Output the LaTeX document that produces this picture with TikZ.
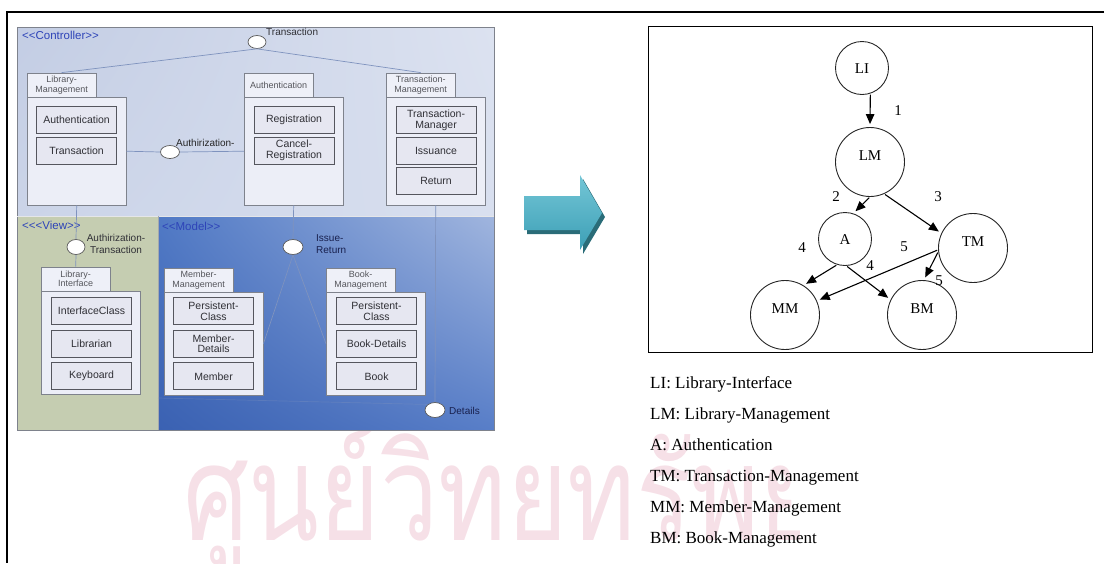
\documentclass[tikz,border=0pt]{standalone}
\usepackage{fontspec}
\setmainfont{Liberation Serif}
\newfontfamily\umlfont{Liberation Sans}
\newfontfamily\thaifont[Script=Thai]{Loma}
\usepackage{xcolor}
\usetikzlibrary{shapes.geometric, arrows.meta, positioning, calc, shadings}
\definecolor{stereoblue}{HTML}{2E44B8}
\definecolor{pkgline}{HTML}{7E828C}
\definecolor{tabfill}{HTML}{EEF0F8}
\definecolor{bodyfill}{HTML}{ECEEF7}
\definecolor{clsfill}{HTML}{E6E7F1}
\definecolor{clsline}{HTML}{55565E}
\definecolor{clstext}{HTML}{303036}
\definecolor{tabtext}{HTML}{55565C}
\definecolor{linkblue}{HTML}{7F93BE}
\definecolor{navytext}{HTML}{18204E}
\definecolor{viewbg}{HTML}{C5CDB1}
\definecolor{ctrlUL}{HTML}{C3CDE4}
\definecolor{ctrlUR}{HTML}{DCE2F0}
\definecolor{ctrlLL}{HTML}{CBD4E8}
\definecolor{ctrlLR}{HTML}{D8DFEF}
\definecolor{modelUL}{HTML}{5079C5}
\definecolor{modelUR}{HTML}{A0B5DE}
\definecolor{modelLL}{HTML}{3A61B2}
\definecolor{modelLR}{HTML}{587EC8}
\definecolor{arrowtop}{HTML}{74C6D6}
\definecolor{arrowbot}{HTML}{3C9FB6}
\definecolor{arrowshadow}{HTML}{2A6C78}
\definecolor{wmpink}{HTML}{F6E0E7}

\begin{document}
\begin{tikzpicture}[x=1pt, y=-1pt, >={Triangle[length=10pt,width=8.5pt]}]
        \tikzstyle{pkgtab}=[draw=pkgline, fill=tabfill, minimum width=69, minimum height=24, inner sep=0pt, align=center, anchor=south west, text=tabtext, font=\umlfont\fontsize{9}{9.8}\selectfont]
        \tikzstyle{pkgbody}=[draw=pkgline, fill=bodyfill, minimum width=99, inner sep=0pt, anchor=north west]
        \tikzstyle{cls}=[draw=clsline, line width=1.1pt, fill=clsfill, minimum width=80, minimum height=27, inner sep=0pt, align=center, anchor=north west, text=clstext, font=\umlfont\fontsize{10.5}{10.8}\selectfont]
        \tikzstyle{lolly}=[ellipse, draw=black!65, line width=0.7pt, fill=white, minimum width=19, minimum height=14, inner sep=0pt]
        \tikzstyle{link}=[draw=linkblue, line width=0.7pt]
        \tikzstyle{stereo}=[anchor=west, inner sep=0pt, text=stereoblue, font=\umlfont\fontsize{11.5}{12}\selectfont]
        \tikzstyle{iface}=[inner sep=0pt, align=left, font=\umlfont\fontsize{10}{11.5}\selectfont]
        \tikzstyle{smallstate}=[circle, draw=black!85, line width=0.9pt, minimum size=53, inner sep=0pt, text height=10.5pt, text depth=0pt, font=\fontsize{15}{15}\selectfont]
        \tikzstyle{bigstate}=[smallstate, minimum size=69, text depth=13pt]
        \tikzstyle{num}=[inner sep=0pt, font=\fontsize{15}{15}\selectfont]
        \tikzstyle{legend}=[anchor=base west, inner sep=0pt, font=\fontsize{17}{17}\selectfont]
        \tikzstyle{dep}=[->, line width=1.1pt, shorten >=3pt, shorten <=1pt]

        \useasboundingbox (0,0) rectangle (1106,563);

        % Watermark behind everything, its tail hidden under the legend
        \node[anchor=base west, inner sep=0pt, text=wmpink, font=\thaifont\fontsize{140}{140}\selectfont] (wm) at (183,540) {\scalebox{0.74}[0.95]{ศูนย์วิทยทรัพยากร}};
        \fill[white] (800,360) rectangle (1106,563);

        % Page frame
        \draw[line width=2pt] (1104,12) -- (7,12) -- (7,563);

        % Layer backgrounds
        \shade[upper left=ctrlUL, upper right=ctrlUR, lower left=ctrlLL, lower right=ctrlLR] (17,27) rectangle (494,216);
        \fill[viewbg] (17,216) rectangle (158,430);
        \shade[upper left=modelUL, upper right=modelUR, lower left=modelLL, lower right=modelLR] (158,216) rectangle (494,430);
        \draw[pkgline, line width=0.8pt] (17,27) rectangle (494,430);
        \draw[white!80!pkgline] (17,216) -- (494,216);
        \draw[pkgline!70] (158,216) -- (158,430);

        % Layer names
        \node[stereo] (ctrl) at (22,35) {<<Controller>>};
        \node[stereo] (view) at (22,225) {<<<View>>};
        \node[stereo] (model) at (162,226) {<<Model>>};

        % Controller packages
        \node[pkgbody, minimum height=108] (lmbody) at (27,97) {};
        \node[pkgtab] (lmtab) at (lmbody.north west) {Library-\\Management};
        \node[cls] (lmauth) at ([shift={(9,9)}]lmbody.north west) {Authentication};
        \node[cls, below=2.5pt of lmauth] (lmtrans) {Transaction};

        \node[pkgbody, minimum height=108] (abody) at (244,97) {};
        \node[pkgtab] (atab) at (abody.north west) {Authentication};
        \node[cls] (areg) at ([shift={(9.5,9)}]abody.north west) {Registration};
        \node[cls, below=2.5pt of areg] (acancel) {Cancel-\\Registration};

        \node[pkgbody, minimum height=108] (tmbody) at (386,97) {};
        \node[pkgtab] (tmtab) at (tmbody.north west) {Transaction-\\Management};
        \node[cls] (tmman) at ([shift={(9.5,9)}]tmbody.north west) {Transaction-\\Manager};
        \node[cls, below=2.5pt of tmman] (tmiss) {Issuance};
        \node[cls, below=2.5pt of tmiss] (tmret) {Return};

        % View package
        \node[pkgbody, minimum height=103] (libody) at (41,291) {};
        \node[pkgtab] (litab) at (libody.north west) {Library-\\Interface};
        \node[cls] (licls) at ([shift={(10,6)}]libody.north west) {InterfaceClass};
        \node[cls, below=4.5pt of licls] (lilib) {Librarian};
        \node[cls, below=4.5pt of lilib] (likey) {Keyboard};

        % Model packages
        \node[pkgbody, minimum height=103] (mmbody) at (164,292) {};
        \node[pkgtab] (mmtab) at (mmbody.north west) {Member-\\Management};
        \node[cls] (mmpers) at ([shift={(9,5)}]mmbody.north west) {Persistent-\\Class};
        \node[cls, below=4.5pt of mmpers] (mmdet) {Member-\\Details};
        \node[cls, below=4.5pt of mmdet] (mmmem) {Member};

        \node[pkgbody, minimum height=103] (bmbody) at (326,292) {};
        \node[pkgtab] (bmtab) at (bmbody.north west) {Book-\\Management};
        \node[cls] (bmpers) at ([shift={(10,5)}]bmbody.north west) {Persistent-\\Class};
        \node[cls, below=4.5pt of bmpers] (bmdet) {Book-Details};
        \node[cls, below=4.5pt of bmdet] (bmbook) {Book};

        % Interfaces
        \node[lolly, minimum width=18, minimum height=13] (trans) at (257,42) {};
        \node[lolly, minimum height=13] (authz) at (170,152) {};
        \node[lolly, minimum width=18, minimum height=15] (authztr) at (76,247) {};
        \node[lolly, minimum width=20, minimum height=15] (issue) at (293,247) {};
        \node[lolly, minimum width=20, minimum height=15] (details) at (435,410) {};
        \coordinate (detailsend) at (158,398);

        \node[iface, anchor=west, text=clstext] (translbl) at (266,32) {Transaction};
        \node[iface, anchor=west, text=black!85] (authzlbl) at (176,143) {Authirization-};
        \node[iface, align=center, text=clstext] (authztrlbl) at (116,244) {Authirization-\\Transaction};
        \node[iface, anchor=west, text=navytext] (issuelbl) at (316,244) {Issue-\\Return};
        \node[iface, anchor=west, text=navytext] (detailslbl) at (449,411) {Details};

        % Connections
        \draw[link] (lmtab.north) -- (trans.south) -- (tmtab.north);
        \draw[link] (lmbody.east) -- (authz.west);
        \draw[link] (authz.east) -- (abody.west);
        \draw[link] (lmbody.south) -- (authztr.north);
        \draw[link] (authztr.south) -- (litab.north);
        \draw[link] (abody.south) -- (issue.north);
        \draw[link] (issue.south) -- (mmbody.east);
        \draw[link] (issue.south) -- (bmbody.west);
        \draw[link] (tmbody.south) -- (details.north);
        \draw[link, opacity=0.35] (details.north west) -- (detailsend);

        % Block arrow between the two parts
        \fill[arrowshadow] (527,200) -- (583,200) -- (583,179) -- (605,217) -- (583,254) -- (583,234) -- (527,234) -- cycle;
        \shade[top color=arrowtop, bottom color=arrowbot] (524,196) -- (580,196) -- (580,175) -- (602,213) -- (580,250) -- (580,230) -- (524,230) -- cycle;

        % Dependency graph
        \draw[line width=0.8pt] (648,26) rectangle (1092,352);

        \node[smallstate] (li) at (862,68) {LI};
        \node[bigstate] (lm) at (870,162) {LM};
        \node[smallstate] (a) at (845,239) {A};
        \node[bigstate] (tm) at (973,248) {TM};
        \node[bigstate] (mm) at (785,315) {MM};
        \node[bigstate] (bm) at (922,315) {BM};

        \draw[dep] (li.-72) -- (lm.north);
        \draw[dep] (lm.-90) -- (a.72);
        \draw[dep] (lm.-66) -- (tm.155);
        \draw[dep] (a.-107) -- (mm.58);
        \draw[dep] (a.-87) -- (bm.154);
        \draw[dep] (tm.-177) -- (mm.24);
        \draw[dep] (tm.-174) -- (bm.87);

        \node[num] (n1) at (898,111) {1};
        \node[num] (n2) at (836,197) {2};
        \node[num] (n3) at (938,197) {3};
        \node[num] (n4a) at (802,248) {4};
        \node[num] (n4b) at (870,266) {4};
        \node[num] (n5a) at (904,247) {5};
        \node[num] (n5b) at (939,281) {5};

        % Legend
        \node[legend] (legli) at (650,388) {LI: Library-Interface};
        \node[legend] (leglm) at (650,419) {LM: Library-Management};
        \node[legend] (lega) at (650,450) {A: Authentication};
        \node[legend] (legtm) at (650,481) {TM: Transaction-Management};
        \node[legend] (legmm) at (650,512) {MM: Member-Management};
        \node[legend] (legbm) at (650,543) {BM: Book-Management};
    \end{tikzpicture}
\end{document}
